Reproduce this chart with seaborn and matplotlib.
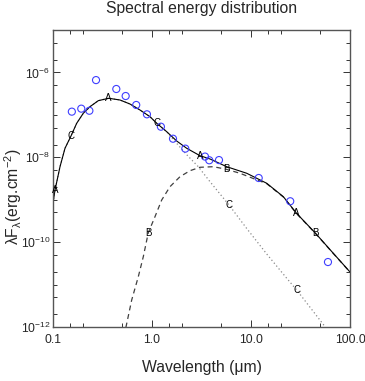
import numpy as np
import pandas as pd
import matplotlib
matplotlib.use("Agg")
import matplotlib.pyplot as plt
import seaborn as sns
from matplotlib.ticker import FixedLocator, FixedFormatter, NullFormatter

# ---------------- data ----------------
obs_wavelength = [0.155, 0.193, 0.233, 0.272, 0.436, 0.542, 0.693, 0.889, 1.23,
                  1.63, 2.17, 3.43, 3.79, 4.75, 11.96, 24.9, 59.9]
obs_flux = [1.19e-7, 1.40e-7, 1.25e-7, 6.6e-7, 4.07e-7, 2.78e-7, 1.71e-7, 1.03e-7,
            5.26e-8, 2.74e-8, 1.6e-8, 1.04e-8, 8.5e-9, 8.6e-9, 3.25e-9, 9.2e-10, 3.4e-11]

# model A: total (solid)
total_wavelength = [0.1, 0.1048, 0.1177, 0.1322, 0.152, 0.1735, 0.2023, 0.2365, 0.2869,
                    0.3652, 0.4752, 0.5997, 0.7566, 0.9546, 1.116, 1.408, 1.776, 2.241,
                    3.053, 3.854, 5.683, 9.05, 14.41, 21.2, 28.8, 44.3, 67.8, 100.0]
total_flux = [8.37e-10, 1.69e-9, 6.0e-9, 1.63e-8, 3.18e-8, 6.33e-8, 1.09e-7, 1.56e-7, 2.16e-7,
              2.46e-7, 2.24e-7, 1.80e-7, 1.30e-7, 9.05e-8, 6.33e-8, 4.01e-8, 2.42e-8, 1.63e-8,
              1.09e-8, 9.12e-9, 6.0e-9, 4.2e-9, 2.44e-9, 1.18e-9, 4.81e-10, 1.67e-10, 5.46e-11, 1.98e-11]

# model B: dust component (dashed)
dust_wavelength = [0.5275, 0.546, 0.6237, 0.7271, 0.8168, 0.9175, 1.072, 1.253, 1.52, 1.918,
                   2.42, 3.053, 4.161, 5.591, 7.745, 10.55, 14.41, 21.2, 28.8, 44.3, 67.8, 100.0]
dust_flux = [3.77e-13, 1.0e-12, 4.33e-12, 1.53e-11, 4.54e-11, 1.67e-10, 3.98e-10, 9.85e-10,
             2.03e-9, 3.49e-9, 4.83e-9, 5.81e-9, 6.0e-9, 5.24e-9, 4.2e-9, 3.16e-9, 2.39e-9,
             1.16e-9, 4.73e-10, 1.65e-10, 5.4e-11, 1.97e-11]

# model C: stellar component (dotted)
star_wavelength = [0.1, 0.1048, 0.1177, 0.1322, 0.152, 0.1735, 0.2023, 0.2365, 0.2869,
                   0.3652, 0.4752, 0.5997, 0.7566, 0.9546, 1.116, 1.408, 1.776, 2.241,
                   2.935, 3.854, 5.997, 9.05, 14.41, 22.94, 28.94, 55.9, 70.0]
star_flux = [8.37e-10, 1.69e-9, 6.0e-9, 1.63e-8, 3.18e-8, 6.33e-8, 1.09e-7, 1.56e-7, 2.16e-7,
             2.46e-7, 2.24e-7, 1.80e-7, 1.30e-7, 9.05e-8, 6.33e-8, 4.0e-8, 2.13e-8, 1.15e-8,
             6.0e-9, 2.66e-9, 7.51e-10, 2.1e-10, 5.26e-11, 1.41e-11, 7.45e-12, 1.02e-12, 3.5e-13]

# letter symbols placed on the model curves (indices into the arrays above)
A_label_index = [1, 9, 18, 24]
B_label_index = [5, 13, 19]
C_label_index = [4, 14, 20, 24]

title_text = "Spectral energy distribution"
xlabel_text = "Wavelength (μm)"
ylabel_text = r"λF$_{\mathregular{λ}}$(erg.cm$^{\mathregular{-2}}$)"

xtick_values = [0.1, 1.0, 10.0, 100.0]
xtick_labels = ["0.1", "1.0", "10.0", "100.0"]
xminor_values = [0.15, 0.2, 0.5, 1.5, 2.0, 5.0, 15.0, 20.0, 50.0]
ytick_values = [1e-12, 1e-10, 1e-8, 1e-6]
ytick_labels = [r"10$^{-12}$", r"10$^{-10}$", r"10$^{-8}$", r"10$^{-6}$"]
yminor_values = [m * 10.0 ** e for e in range(-12, -5) for m in (1, 2, 5)
                 if m * 10.0 ** e not in ytick_values]

# ---------------- styling ----------------
sns.set_style("ticks")
plt.rcParams["font.family"] = ["Liberation Sans", "DejaVu Sans"]
plt.rcParams["mathtext.fontset"] = "custom"
plt.rcParams["mathtext.rm"] = "Liberation Sans"
plt.rcParams["mathtext.it"] = "Liberation Sans:italic"
plt.rcParams["mathtext.bf"] = "Liberation Sans:bold"

fig = plt.figure(figsize=(3.65, 3.81), dpi=100)
ax = fig.add_axes([53 / 365, 1 - 327 / 381, 297 / 365, 297 / 381])

df_total = pd.DataFrame({"wl": total_wavelength, "f": total_flux})
df_dust = pd.DataFrame({"wl": dust_wavelength, "f": dust_flux})
df_star = pd.DataFrame({"wl": star_wavelength, "f": star_flux})
df_obs = pd.DataFrame({"wl": obs_wavelength, "f": obs_flux})

sns.lineplot(data=df_star, x="wl", y="f", ax=ax, sort=False, color="#8a8a8a",
             lw=0.9, linestyle=(0, (1, 2)), estimator=None)
sns.lineplot(data=df_dust, x="wl", y="f", ax=ax, sort=False, color="#404040",
             lw=0.9, linestyle=(0, (4, 3)), estimator=None)
sns.lineplot(data=df_total, x="wl", y="f", ax=ax, sort=False, color="black",
             lw=0.8, estimator=None)
sns.scatterplot(data=df_obs, x="wl", y="f", ax=ax, marker="o", s=26,
                facecolor="none", edgecolor="#3f3fff", linewidth=0.8, zorder=5)

for i in A_label_index:
    ax.text(total_wavelength[i], total_flux[i], "A", ha="center", va="center",
            fontsize=7, color="black", zorder=6)
for i in B_label_index:
    ax.text(dust_wavelength[i], dust_flux[i], "B", ha="center", va="center",
            fontsize=7, color="black", zorder=6)
for i in C_label_index:
    ax.text(star_wavelength[i], star_flux[i], "C", ha="center", va="center",
            fontsize=7, color="black", zorder=6)

ax.set_xscale("log")
ax.set_yscale("log")
ax.set_xlim(0.1, 100)
ax.set_ylim(1e-12, 1e-5)

ax.xaxis.set_major_locator(FixedLocator(xtick_values))
ax.xaxis.set_major_formatter(FixedFormatter(xtick_labels))
ax.xaxis.set_minor_locator(FixedLocator(xminor_values))
ax.xaxis.set_minor_formatter(NullFormatter())
ax.yaxis.set_major_locator(FixedLocator(ytick_values))
ax.yaxis.set_major_formatter(FixedFormatter(ytick_labels))
ax.yaxis.set_minor_locator(FixedLocator(yminor_values))
ax.yaxis.set_minor_formatter(NullFormatter())

ax.tick_params(which="both", direction="in", top=True, right=True,
               color="#333333", width=0.7, labelsize=8.7)
ax.tick_params(which="major", length=5)
ax.tick_params(which="minor", length=3)
ax.tick_params(axis="x", which="major", pad=5)
ax.tick_params(axis="y", which="major", pad=2)
for s in ax.spines.values():
    s.set_visible(True)
    s.set_color("#555555")
    s.set_linewidth(1.0)

ax.set_xlabel(xlabel_text, fontsize=11.3)
ax.set_ylabel(ylabel_text, fontsize=11.3)
ax.xaxis.set_label_coords(0.5, -0.11)
ax.yaxis.set_label_coords(-0.097, 0.44)
fig.text(201.5 / 365, 1 - 13 / 381, title_text, ha="center", va="baseline", fontsize=11.3)

fig.savefig("out.png", dpi=100)
